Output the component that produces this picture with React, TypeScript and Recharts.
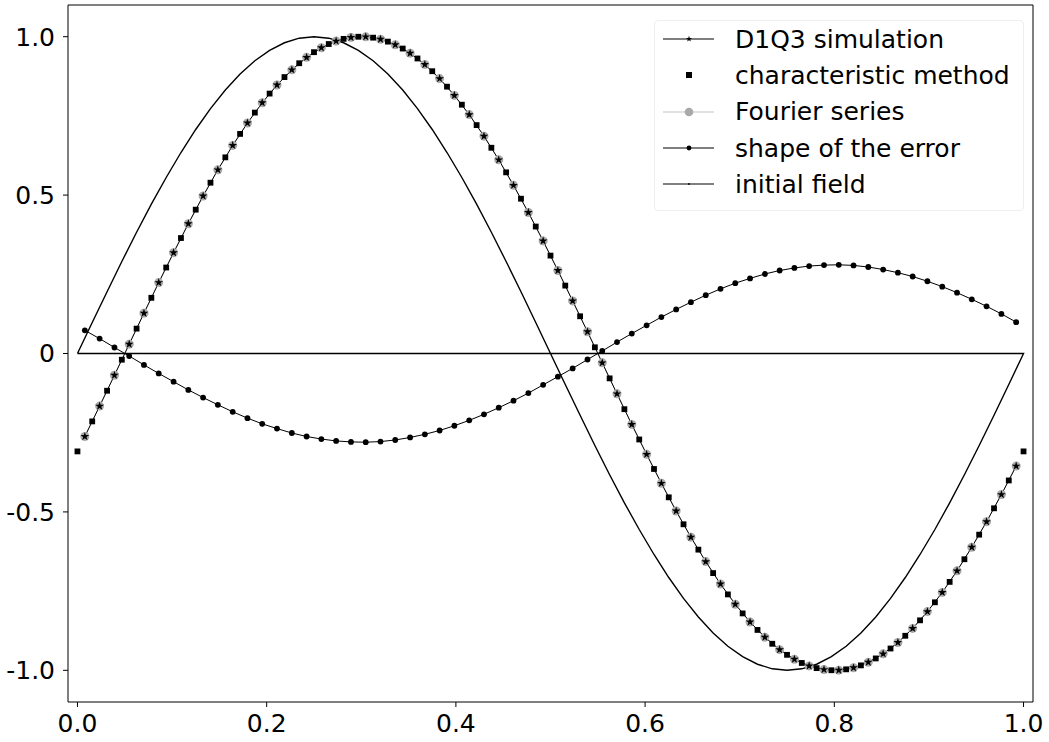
import { LineChart, Line, XAxis, YAxis, ReferenceLine, Legend } from "recharts";

// grid nodes x = i/64 and cell centres x = (i+0.5)/64
const nodeX = [
  0, 0.0156, 0.0313, 0.0469, 0.0625, 0.0781, 0.0938, 0.1094, 0.125, 0.1406, 0.1563, 0.1719, 0.1875,
  0.2031, 0.2188, 0.2344, 0.25, 0.2656, 0.2813, 0.2969, 0.3125, 0.3281, 0.3438, 0.3594, 0.375,
  0.3906, 0.4063, 0.4219, 0.4375, 0.4531, 0.4688, 0.4844, 0.5, 0.5156, 0.5313, 0.5469, 0.5625,
  0.5781, 0.5938, 0.6094, 0.625, 0.6406, 0.6563, 0.6719, 0.6875, 0.7031, 0.7188, 0.7344, 0.75,
  0.7656, 0.7813, 0.7969, 0.8125, 0.8281, 0.8438, 0.8594, 0.875, 0.8906, 0.9063, 0.9219, 0.9375,
  0.9531, 0.9688, 0.9844, 1,
];
const cellX = [
  0.0078, 0.0234, 0.0391, 0.0547, 0.0703, 0.0859, 0.1016, 0.1172, 0.1328, 0.1484, 0.1641, 0.1797,
  0.1953, 0.2109, 0.2266, 0.2422, 0.2578, 0.2734, 0.2891, 0.3047, 0.3203, 0.3359, 0.3516, 0.3672,
  0.3828, 0.3984, 0.4141, 0.4297, 0.4453, 0.4609, 0.4766, 0.4922, 0.5078, 0.5234, 0.5391, 0.5547,
  0.5703, 0.5859, 0.6016, 0.6172, 0.6328, 0.6484, 0.6641, 0.6797, 0.6953, 0.7109, 0.7266, 0.7422,
  0.7578, 0.7734, 0.7891, 0.8047, 0.8203, 0.8359, 0.8516, 0.8672, 0.8828, 0.8984, 0.9141, 0.9297,
  0.9453, 0.9609, 0.9766, 0.9922,
];

const initialField = [
  0, 0.098, 0.1951, 0.2903, 0.3827, 0.4714, 0.5556, 0.6344, 0.7071, 0.773, 0.8315, 0.8819, 0.9239,
  0.9569, 0.9808, 0.9952, 1, 0.9952, 0.9808, 0.9569, 0.9239, 0.8819, 0.8315, 0.773, 0.7071, 0.6344,
  0.5556, 0.4714, 0.3827, 0.2903, 0.1951, 0.098, 0, -0.098, -0.1951, -0.2903, -0.3827, -0.4714,
  -0.5556, -0.6344, -0.7071, -0.773, -0.8315, -0.8819, -0.9239, -0.9569, -0.9808, -0.9952, -1,
  -0.9952, -0.9808, -0.9569, -0.9239, -0.8819, -0.8315, -0.773, -0.7071, -0.6344, -0.5556, -0.4714,
  -0.3827, -0.2903, -0.1951, -0.098, 0,
];

const characteristic = [
  -0.309, -0.2143, -0.1175, -0.0196, 0.0785, 0.1758, 0.2714, 0.3645, 0.454, 0.5391, 0.6191, 0.6931,
  0.7604, 0.8204, 0.8725, 0.9162, 0.9511, 0.9768, 0.9931, 0.9998, 0.9969, 0.9844, 0.9625, 0.9312,
  0.891, 0.8422, 0.7853, 0.7209, 0.6494, 0.5718, 0.4886, 0.4007, 0.309, 0.2143, 0.1175, 0.0196,
  -0.0785, -0.1758, -0.2714, -0.3645, -0.454, -0.5391, -0.6191, -0.6931, -0.7604, -0.8204, -0.8725,
  -0.9162, -0.9511, -0.9768, -0.9931, -0.9998, -0.9969, -0.9844, -0.9625, -0.9312, -0.891, -0.8422,
  -0.7853, -0.7209, -0.6494, -0.5718, -0.4886, -0.4007, -0.309,
];

const d1q3 = [
  -0.262, -0.1661, -0.0687, 0.0294, 0.1273, 0.2239, 0.3183, 0.4097, 0.4972, 0.5798, 0.6569, 0.7276,
  0.7914, 0.8475, 0.8954, 0.9347, 0.9651, 0.9861, 0.9976, 0.9996, 0.9919, 0.9746, 0.948, 0.9122,
  0.8677, 0.8147, 0.754, 0.686, 0.6114, 0.5308, 0.4452, 0.3553, 0.262, 0.1661, 0.0687, -0.0294,
  -0.1273, -0.2239, -0.3183, -0.4097, -0.4972, -0.5798, -0.6569, -0.7276, -0.7914, -0.8475, -0.8954,
  -0.9347, -0.9651, -0.9861, -0.9976, -0.9996, -0.9919, -0.9746, -0.948, -0.9122, -0.8677, -0.8147,
  -0.754, -0.686, -0.6114, -0.5308, -0.4452, -0.3553,
];

// Fourier series sits on top of the D1Q3 points
const fourier = [...d1q3];

const errorShape = [
  0.073, 0.047, 0.019, -0.008, -0.036, -0.063, -0.089, -0.115, -0.139, -0.162, -0.184, -0.204,
  -0.222, -0.237, -0.251, -0.262, -0.27, -0.276, -0.279, -0.28, -0.278, -0.273, -0.265, -0.255,
  -0.243, -0.228, -0.211, -0.192, -0.171, -0.149, -0.125, -0.099, -0.073, -0.047, -0.019, 0.008,
  0.036, 0.063, 0.089, 0.115, 0.139, 0.162, 0.184, 0.204, 0.222, 0.237, 0.251, 0.262, 0.27, 0.276,
  0.279, 0.28, 0.278, 0.273, 0.265, 0.255, 0.243, 0.228, 0.211, 0.192, 0.171, 0.149, 0.125, 0.099,
];

const xTicks = [0, 0.2, 0.4, 0.6, 0.8, 1.0];
const yTicks = [-1, -0.5, 0, 0.5, 1];

const FONT = "'DejaVu Sans', sans-serif";
const GREY_LINE = "#c6c6c6";
const GREY_DOT = "#a9a9a9";

function toPoints(xs: number[], ys: number[]) {
  return xs.map((x, i) => ({ x, y: ys[i] }));
}

// initial field is drawn as a closed curve back along y = 0
const initialData = [...toPoints(nodeX, initialField), { x: 0, y: 0 }];
const charData = toPoints(nodeX, characteristic);
const d1q3Data = toPoints(cellX, d1q3);
const fourierData = toPoints(cellX, fourier);
const errorData = toPoints(cellX, errorShape);

function starPath(cx: number, cy: number, r: number) {
  let d = "";
  for (let i = 0; i < 10; i++) {
    const rad = i % 2 === 0 ? r : r * 0.382;
    const a = -Math.PI / 2 + (i * Math.PI) / 5;
    d += (i ? "L" : "M") + (cx + rad * Math.cos(a)).toFixed(2) + "," + (cy + rad * Math.sin(a)).toFixed(2);
  }
  return d + "Z";
}

const StarDot = (p: any) =>
  p.cx == null ? <g key={p.index} /> : <path key={p.index} d={starPath(p.cx, p.cy, 4.6)} fill="#000" />;
const SquareDot = (p: any) =>
  p.cx == null ? <g key={p.index} /> : (
    <rect key={p.index} x={p.cx - 2.9} y={p.cy - 2.9} width={5.8} height={5.8} fill="#000" />
  );
const GreyDot = (p: any) =>
  p.cx == null ? <g key={p.index} /> : <circle key={p.index} cx={p.cx} cy={p.cy} r={4.5} fill={GREY_DOT} />;
const ErrorDot = (p: any) =>
  p.cx == null ? <g key={p.index} /> : <circle key={p.index} cx={p.cx} cy={p.cy} r={2.9} fill="#000" />;

const legendItems = [
  { label: "D1Q3 simulation", line: "#000", marker: "star" },
  { label: "characteristic method", line: "", marker: "square" },
  { label: "Fourier series", line: GREY_LINE, marker: "grey" },
  { label: "shape of the error", line: "#000", marker: "dot" },
  { label: "initial field", line: "#000", marker: "pixel" },
];

function LegendMarker({ kind }: { kind: string }) {
  if (kind === "star") return <path d={starPath(26, 10, 3.2)} fill="#000" />;
  if (kind === "square") return <rect x={23} y={7} width={6} height={6} fill="#000" />;
  if (kind === "grey") return <circle cx={26} cy={10} r={4.3} fill={GREY_DOT} />;
  if (kind === "dot") return <circle cx={26} cy={10} r={2.4} fill="#000" />;
  return <circle cx={26} cy={10} r={0.9} fill="#000" />;
}

function renderLegend() {
  return (
    <div
      style={{
        border: "1px solid #efefef",
        borderRadius: 4,
        background: "rgba(255,255,255,0.8)",
        padding: "0 0 8px 0",
        fontFamily: FONT,
        fontSize: 25,
        color: "#000",
      }}
    >
      {legendItems.map((it) => (
        <div key={it.label} style={{ display: "flex", alignItems: "center", height: 36.3 }}>
          <svg width={52} height={20} style={{ marginLeft: 8, flex: "none" }}>
            {it.line && <line x1={0} y1={10} x2={51} y2={10} stroke={it.line} strokeWidth={1.2} />}
            <LegendMarker kind={it.marker} />
          </svg>
          <span style={{ marginLeft: 20, whiteSpace: "nowrap", lineHeight: 1 }}>{it.label}</span>
        </div>
      ))}
    </div>
  );
}

const tickStyle = { fill: "#000", fontSize: 25, fontFamily: FONT };

export default function App() {
  return (
    <div style={{ position: "absolute", left: 0, top: 0, width: 1049, height: 742, background: "#fff" }}>
      <LineChart width={1049} height={742} margin={{ top: 5, right: 16, left: 0, bottom: 0 }}>
        <XAxis
          type="number"
          dataKey="x"
          domain={[-0.01, 1.01]}
          ticks={xTicks}
          allowDataOverflow
          tickFormatter={(v: number) => v.toFixed(1)}
          tick={tickStyle}
          tickSize={5}
          tickMargin={7}
          height={40}
          axisLine={{ stroke: "#000", strokeWidth: 1 }}
          tickLine={{ stroke: "#000", strokeWidth: 1 }}
        />
        <YAxis
          type="number"
          domain={[-1.1, 1.1]}
          ticks={yTicks}
          allowDataOverflow
          tickFormatter={(v: number) => (v === 0 ? "0" : v.toFixed(1))}
          tick={tickStyle}
          tickSize={5}
          tickMargin={8}
          width={68}
          axisLine={{ stroke: "#000", strokeWidth: 1 }}
          tickLine={{ stroke: "#000", strokeWidth: 1 }}
        />
        <ReferenceLine y={1.1} stroke="#000" strokeWidth={1} />
        <ReferenceLine x={1.01} stroke="#000" strokeWidth={1} />
        <Line
          data={fourierData}
          dataKey="y"
          type="linear"
          stroke={GREY_LINE}
          strokeWidth={1}
          dot={GreyDot}
          activeDot={false}
          isAnimationActive={false}
        />
        <Line
          data={initialData}
          dataKey="y"
          type="linear"
          stroke="#000"
          strokeWidth={1.4}
          dot={false}
          activeDot={false}
          isAnimationActive={false}
        />
        <Line
          data={errorData}
          dataKey="y"
          type="linear"
          stroke="#000"
          strokeWidth={1}
          dot={ErrorDot}
          activeDot={false}
          isAnimationActive={false}
        />
        <Line
          data={d1q3Data}
          dataKey="y"
          type="linear"
          stroke="#000"
          strokeWidth={1}
          dot={StarDot}
          activeDot={false}
          isAnimationActive={false}
        />
        <Line
          data={charData}
          dataKey="y"
          type="linear"
          stroke="none"
          dot={SquareDot}
          activeDot={false}
          isAnimationActive={false}
        />
        <Legend
          layout="vertical"
          align="center"
          verticalAlign="middle"
          content={renderLegend}
          wrapperStyle={{ left: 654, top: 20, width: 370 }}
        />
      </LineChart>
    </div>
  );
}
